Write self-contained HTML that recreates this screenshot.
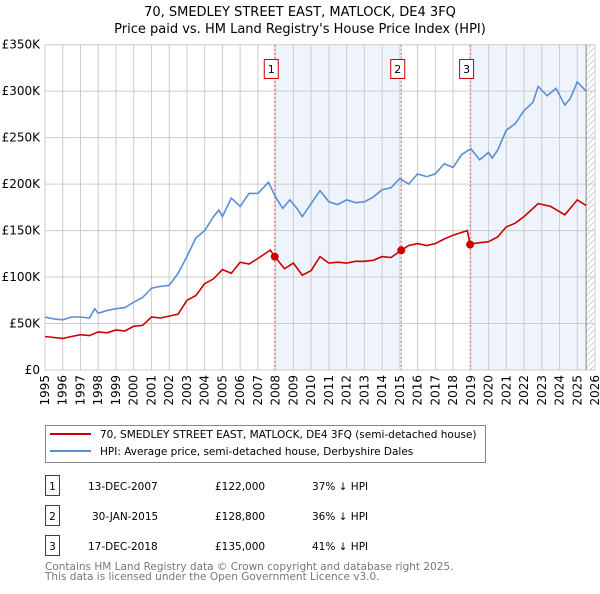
<!DOCTYPE html>
<html><head><meta charset="utf-8"><style>
body{margin:0;background:#fff;font-family:"DejaVu Sans","Liberation Sans",sans-serif;}
svg text{font-family:"DejaVu Sans","Liberation Sans",sans-serif;}
</style></head><body>
<svg id="c" width="600" height="590" xmlns="http://www.w3.org/2000/svg">
<text x="300" y="16" text-anchor="middle" font-size="13">70, SMEDLEY STREET EAST, MATLOCK, DE4 3FQ</text>
<text x="300" y="33" text-anchor="middle" font-size="13">Price paid vs. HM Land Registry's House Price Index (HPI)</text>
<g id="plot"></g>
<g>
<rect x="45.5" y="425.5" width="440" height="37" fill="#fff" stroke="#888"/>
<line x1="50" y1="434" x2="91" y2="434" stroke="#cc0000" stroke-width="2"/>
<text x="100" y="438" font-size="10.5">70, SMEDLEY STREET EAST, MATLOCK, DE4 3FQ (semi-detached house)</text>
<line x1="50" y1="451" x2="91" y2="451" stroke="#5b8fd4" stroke-width="2"/>
<text x="100" y="455" font-size="10.5">HPI: Average price, semi-detached house, Derbyshire Dales</text>
</g>
<g font-size="10.5">
<rect x="45.5" y="475.5" width="14" height="20" fill="#fff" stroke="#cc0000"/><text x="52.5" y="490" text-anchor="middle">1</text>
<text x="88" y="490">13-DEC-2007</text><text x="215" y="490">£122,000</text><text x="312" y="490">37% ↓ HPI</text>
<rect x="45.5" y="505.5" width="14" height="20" fill="#fff" stroke="#cc0000"/><text x="52.5" y="520" text-anchor="middle">2</text>
<text x="92" y="520">30-JAN-2015</text><text x="215" y="520">£128,800</text><text x="312" y="520">36% ↓ HPI</text>
<rect x="45.5" y="535.5" width="14" height="20" fill="#fff" stroke="#cc0000"/><text x="52.5" y="550" text-anchor="middle">3</text>
<text x="88" y="550">17-DEC-2018</text><text x="215" y="550">£135,000</text><text x="312" y="550">41% ↓ HPI</text>
</g>
<text x="45" y="570" font-size="10.5" fill="#777">Contains HM Land Registry data © Crown copyright and database right 2025.</text>
<text x="45" y="580" font-size="10.5" fill="#777">This data is licensed under the Open Government Licence v3.0.</text>
</svg>
<script>
const hpiYears=[1995,1995.5,1996,1996.5,1997,1997.5,1997.8,1998,1998.5,1999,1999.5,2000,2000.5,2001,2001.5,2002,2002.5,2003,2003.5,2004,2004.5,2004.8,2005,2005.5,2006,2006.5,2007,2007.6,2008,2008.4,2008.8,2009.2,2009.5,2010,2010.5,2011,2011.5,2012,2012.5,2013,2013.5,2014,2014.5,2015,2015.5,2016,2016.5,2017,2017.5,2018,2018.5,2019,2019.5,2020,2020.2,2020.5,2021,2021.5,2022,2022.5,2022.8,2023.3,2023.8,2024.3,2024.6,2025,2025.5];
const hpiValues=[57,55,54,57,57,56,66,61,64,66,67,73,78,88,90,91,104,122,142,150,165,172,165,185,176,190,190,202,186,174,183,174,165,179,193,181,178,183,180,181,186,194,196,206,200,211,208,211,222,218,232,238,226,234,228,236,258,265,279,288,305,295,303,285,292,310,300];
const ppYears=[1995,1995.5,1996,1996.5,1997,1997.5,1998,1998.5,1999,1999.5,2000,2000.5,2001,2001.5,2002,2002.5,2003,2003.5,2004,2004.5,2005,2005.5,2006,2006.5,2007,2007.7,2007.95,2008.5,2009,2009.5,2010,2010.5,2011,2011.5,2012,2012.5,2013,2013.5,2014,2014.5,2015.08,2015.5,2016,2016.5,2017,2017.5,2018,2018.8,2018.96,2019.1,2019.5,2020,2020.5,2021,2021.5,2022,2022.8,2023.5,2024.3,2025,2025.5];
const ppValues=[36,35,34,36,38,37,41,40,43,42,47,48,57,56,58,60,75,80,93,98,108,104,116,114,120,129,122,109,115,102,107,122,115,116,115,117,117,118,122,121,128.8,134,136,134,136,141,145,150,135,136,137,138,143,154,158,165,179,176,167,183,177];
const sales=[{t:2007.95,v:122,n:'1'},{t:2015.08,v:128.8,n:'2'},{t:2018.96,v:135,n:'3'}];
const yTicks=[0,50,100,150,200,250,300,350];
const yTickLabels=['£0','£50K','£100K','£150K','£200K','£250K','£300K','£350K'];
const xTicks=[];for(let y=1995;y<=2026;y++)xTicks.push(y);

const L=45,R=595,T=44.7,B=370;
const x=t=>L+(t-1995)/31*(R-L);
const y=v=>B-v/350*(B-T);
const NS='http://www.w3.org/2000/svg';
const g=document.getElementById('plot');
function mk(tag,attrs,parent){const e=document.createElementNS(NS,tag);for(const k in attrs)e.setAttribute(k,attrs[k]);(parent||g).appendChild(e);return e;}
let s=mk('rect',{x:x(sales[0].t),y:T,width:x(sales[1].t)-x(sales[0].t),height:B-T,fill:'#eef3fc'});


s=mk('rect',{x:x(sales[2].t),y:T,width:x(2025.5)-x(sales[2].t),height:B-T,fill:'#eef3fc'});


const defs=mk('defs',{});
const pat=mk('pattern',{id:'h',width:6,height:6,patternUnits:'userSpaceOnUse'},defs);
mk('path',{d:'M0,6 L6,0',stroke:'#bbb','stroke-width':0.7},pat);
s=mk('rect',{x:x(2025.5),y:T,width:R-x(2025.5),height:B-T,fill:'url(#h)'});


xTicks.forEach(t=>{
 const l=mk('line',{x1:x(t),x2:x(t),y1:T,y2:B,stroke:'#ccc','stroke-width':1});
 
 
 const tx=mk('text',{x:0,y:0,'font-size':12,'text-anchor':'end',transform:`translate(${x(t)+4},${B+5}) rotate(-90)`});
 tx.textContent=t;
 
 
});
yTicks.forEach((v,i)=>{
 const l=mk('line',{x1:L,x2:R,y1:y(v),y2:y(v),stroke:'#ccc','stroke-width':1});
 
 
 const tx=mk('text',{x:40,y:y(v)+4,'font-size':12,'text-anchor':'end'});
 tx.textContent=yTickLabels[i];
 
 
});
let ax=mk('line',{x1:x(2025.5),x2:x(2025.5),y1:T,y2:B,stroke:'#888','stroke-width':1});


sales.forEach(sl=>{
 const l=mk('line',{x1:x(sl.t),x2:x(sl.t),y1:T,y2:B,stroke:'#e06060','stroke-dasharray':'2,2','stroke-width':1});
 
 
 const r=mk('rect',{x:x(sl.t)-10.5,y:59.5,width:14,height:19,fill:'#fff',stroke:'#cc0000'});
 
 
 const tx=mk('text',{x:x(sl.t)-3.5,y:73,'font-size':11,'text-anchor':'middle'});
 tx.textContent=sl.n;
 
 
});
const pth=(ts,vs)=>ts.map((t,i)=>(i?'L':'M')+x(t).toFixed(1)+','+y(vs[i]).toFixed(1)).join(' ');
let p=mk('path',{d:pth(hpiYears,hpiValues),fill:'none',stroke:'#5b8fd4','stroke-width':1.6});


p=mk('path',{d:pth(ppYears,ppValues),fill:'none',stroke:'#cc0000','stroke-width':1.6});


sales.forEach(sl=>{
 const c=mk('circle',{cx:x(sl.t),cy:y(sl.v),r:4,fill:'#cc0000'});
 
 
});
</script>
</body></html>
